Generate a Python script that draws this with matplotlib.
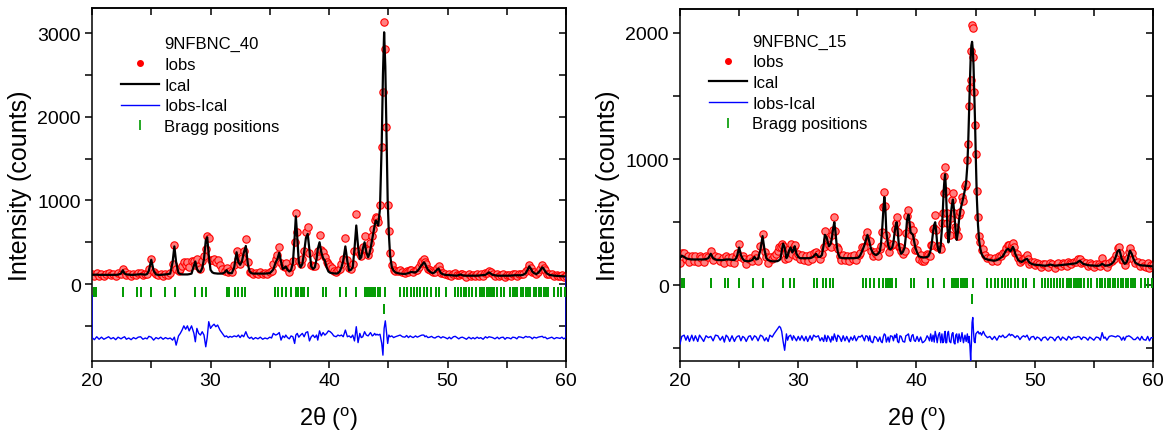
import numpy as np
import matplotlib
matplotlib.use("Agg")
import matplotlib.pyplot as plt
from matplotlib.lines import Line2D
from matplotlib.ticker import MultipleLocator

plt.rcParams.update({
    "font.family": ["Liberation Sans", "DejaVu Sans"],
    "mathtext.fontset": "custom",
    "mathtext.rm": "Liberation Sans",
    "axes.linewidth": 1.1,
})

# ---------------------------------------------------------------- data
# sample 9NFBNC_40 : 2theta, calculated profile, residual (Iobs - Ical)
tt_40 = [20.0, 20.2, 20.4, 20.6, 20.8, 21.0, 21.2, 21.4, 21.6, 21.8,
         22.0, 22.2, 22.45, 22.6, 22.75, 22.9, 23.1, 23.3, 23.5, 23.7,
         23.9, 24.1, 24.3, 24.5, 24.65, 24.8, 25.0, 25.2, 25.4, 25.6,
         25.8, 26.0, 26.2, 26.4, 26.6, 26.8, 26.95, 27.1, 27.3, 27.45,
         27.6, 27.75, 27.9, 28.05, 28.2, 28.4, 28.6, 28.72, 28.85, 29.0,
         29.15, 29.3, 29.45, 29.6, 29.72, 29.85, 30.0, 30.15, 30.3, 30.45,
         30.6, 30.8, 31.0, 31.2, 31.35, 31.5, 31.65, 31.8, 32.0, 32.2,
         32.35, 32.5, 32.65, 32.8, 32.98, 33.15, 33.3, 33.45, 33.6, 33.8,
         34.0, 34.2, 34.4, 34.6, 34.8, 35.0, 35.15, 35.3, 35.5, 35.65,
         35.8, 35.95, 36.1, 36.25, 36.35, 36.5, 36.65, 36.8, 36.95, 37.1,
         37.2, 37.32, 37.45, 37.6, 37.75, 37.9, 38.05, 38.2, 38.35, 38.5,
         38.65, 38.8, 38.95, 39.05, 39.2, 39.35, 39.5, 39.65, 39.8, 39.95,
         40.1, 40.25, 40.4, 40.6, 40.75, 40.9, 41.05, 41.2, 41.38, 41.55,
         41.7, 41.85, 42.0, 42.15, 42.3, 42.45, 42.6, 42.72, 42.85, 43.0,
         43.15, 43.3, 43.4, 43.5, 43.65, 43.75, 43.85, 43.95, 44.05, 44.15,
         44.3, 44.45, 44.55, 44.65, 44.75, 44.85, 44.95, 45.05, 45.15, 45.3,
         45.45, 45.6, 45.8, 46.0, 46.2, 46.4, 46.55, 46.7, 46.85, 46.95,
         47.1, 47.3, 47.45, 47.6, 47.75, 47.85, 48.0, 48.1, 48.2, 48.35,
         48.5, 48.65, 48.8, 48.95, 49.1, 49.25, 49.35, 49.45, 49.6, 49.8,
         50.0, 50.15, 50.3, 50.5, 50.65, 50.8, 50.95, 51.1, 51.25, 51.4,
         51.6, 51.8, 52.0, 52.15, 52.3, 52.5, 52.65, 52.8, 53.0, 53.2,
         53.35, 53.5, 53.65, 53.8, 54.0, 54.2, 54.35, 54.5, 54.7, 54.85,
         55.0, 55.2, 55.35, 55.5, 55.7, 55.85, 56.0, 56.2, 56.4, 56.6,
         56.75, 56.9, 57.05, 57.15, 57.3, 57.5, 57.65, 57.8, 58.0, 58.1,
         58.25, 58.4, 58.6, 58.8, 59.0, 59.2, 59.35, 59.5, 59.65, 59.8,
         60.0]
ical_40 = [110, 112, 112, 110, 110, 110, 110, 110, 110, 110,
           110, 112, 125, 165, 125, 115, 112, 110, 110, 112,
           115, 118, 115, 112, 120, 160, 290, 160, 115, 110,
           110, 112, 115, 118, 125, 260, 450, 260, 130, 120,
           115, 115, 115, 115, 118, 125, 220, 270, 180, 150,
           145, 190, 300, 520, 560, 350, 170, 140, 130, 128,
           125, 125, 125, 140, 165, 135, 130, 130, 200, 380,
           260, 230, 270, 370, 455, 240, 150, 130, 125, 125,
           125, 125, 125, 125, 127, 130, 150, 175, 260, 300,
           375, 270, 180, 195, 210, 170, 150, 170, 250, 560,
           810, 560, 260, 200, 240, 380, 550, 600, 400, 210,
           180, 200, 300, 420, 500, 380, 310, 280, 200, 150,
           135, 130, 128, 125, 130, 150, 200, 280, 450, 270,
           160, 170, 200, 420, 700, 450, 300, 320, 420, 500,
           380, 320, 360, 420, 540, 620, 700, 760, 740, 700,
           900, 1700, 2500, 3010, 2600, 1800, 1000, 600, 350, 200,
           160, 140, 130, 125, 122, 120, 125, 130, 140, 145,
           140, 140, 155, 180, 215, 230, 260, 245, 210, 170,
           150, 135, 130, 145, 170, 185, 155, 130, 118, 110,
           108, 106, 105, 103, 102, 100, 108, 115, 105, 100,
           100, 100, 100, 100, 100, 100, 102, 105, 108, 110,
           125, 140, 125, 110, 105, 100, 100, 100, 100, 100,
           100, 100, 102, 103, 105, 105, 105, 105, 112, 130,
           170, 210, 180, 150, 130, 120, 135, 160, 200, 185,
           150, 125, 110, 105, 100, 98, 97, 95, 93, 92,
           90]
resid_40 = [10, -15, 20, -10, 15, -10, 5, 20, -5, 10,
            -15, 15, -5, 10, 20, -10, 5, -15, 10, -5,
            15, 20, -10, 5, -5, 25, 15, -20, 10, -5,
            15, -10, 10, -5, 5, -20, 15, -80, 30, 60,
            100, 150, 110, 150, 90, 150, 60, -40, 120, 60,
            40, 80, 40, -100, 10, 200, 120, 150, 170, 140,
            160, 100, 60, 20, 30, 10, 25, 15, 30, 20,
            40, 10, 40, 20, 80, 20, 0, 15, -10, 10,
            -5, 15, -10, 5, -5, 15, 5, 60, 40, 50,
            70, -20, 30, 10, 40, 10, -5, 30, 20, -60,
            40, 60, 15, 40, 60, 20, 70, 80, -30, 20,
            40, 10, 40, -20, 90, 30, 70, 40, 60, 90,
            80, 60, 30, 20, 40, 30, 40, 20, 100, 20,
            30, 10, 40, -30, 140, -50, 60, 10, 20, 80,
            40, 30, 50, 70, 30, 40, 60, 40, 50, 40,
            50, -60, -200, 120, 210, 80, -60, 40, 20, 30,
            10, 20, 30, 40, 20, 15, 35, 10, 30, 20,
            10, 30, 15, 25, 35, 40, 40, 20, 30, 10,
            15, 25, 10, 5, 20, 25, 15, 5, 20, 10,
            -5, 15, -5, 20, 25, 10, -5, 10, 15, 5,
            -10, 15, -5, 10, -5, 15, 0, 10, -10, 20,
            5, 20, 15, 10, -5, 15, -5, 10, 15, -10,
            10, 5, -5, 15, 10, -5, 20, 15, 5, 25,
            15, 20, 10, -5, 15, 5, 15, 20, 25, 10,
            15, -5, 5, 15, -5, 10, 5, 0, 15, -5,
            10]
diff_edges_40 = [-140, 80]   # end values of the difference trace

# sample 9NFBNC_15
tt_15 = [20.0, 20.15, 20.35, 20.5, 20.65, 20.8, 21.0, 21.15, 21.3, 21.5,
         21.65, 21.8, 22.0, 22.2, 22.4, 22.6, 22.8, 23.0, 23.2, 23.4,
         23.6, 23.75, 23.9, 24.05, 24.2, 24.4, 24.6, 24.75, 24.85, 25.0,
         25.15, 25.3, 25.45, 25.6, 25.8, 25.95, 26.1, 26.3, 26.45, 26.6,
         26.8, 26.98, 27.15, 27.3, 27.45, 27.6, 27.8, 27.95, 28.1, 28.25,
         28.4, 28.5, 28.6, 28.72, 28.85, 29.0, 29.1, 29.2, 29.35, 29.5,
         29.6, 29.7, 29.85, 30.0, 30.15, 30.3, 30.5, 30.65, 30.8, 31.0,
         31.15, 31.3, 31.5, 31.7, 31.85, 32.0, 32.15, 32.25, 32.4, 32.5,
         32.6, 32.75, 32.85, 32.95, 33.05, 33.15, 33.25, 33.35, 33.5, 33.65,
         33.8, 33.95, 34.1, 34.3, 34.45, 34.6, 34.75, 34.9, 35.1, 35.25,
         35.4, 35.6, 35.72, 35.85, 35.95, 36.05, 36.15, 36.3, 36.45, 36.6,
         36.75, 36.9, 37.0, 37.1, 37.2, 37.28, 37.37, 37.45, 37.6, 37.7,
         37.8, 37.95, 38.05, 38.15, 38.25, 38.32, 38.4, 38.5, 38.6, 38.7,
         38.85, 39.0, 39.1, 39.2, 39.32, 39.42, 39.5, 39.6, 39.7, 39.8,
         39.9, 40.05, 40.2, 40.35, 40.5, 40.6, 40.75, 40.9, 41.0, 41.1,
         41.2, 41.3, 41.4, 41.5, 41.58, 41.67, 41.75, 41.85, 41.95, 42.05,
         42.15, 42.23, 42.3, 42.36, 42.42, 42.48, 42.55, 42.62, 42.7, 42.8,
         42.9, 43.0, 43.08, 43.17, 43.25, 43.32, 43.4, 43.5, 43.6, 43.72,
         43.85, 43.97, 44.1, 44.2, 44.3, 44.38, 44.45, 44.52, 44.58, 44.64,
         44.7, 44.76, 44.82, 44.88, 44.95, 45.02, 45.1, 45.2, 45.3, 45.4,
         45.5, 45.65, 45.8, 46.0, 46.2, 46.4, 46.6, 46.8, 47.0, 47.15,
         47.3, 47.45, 47.6, 47.75, 47.85, 47.95, 48.05, 48.15, 48.25, 48.35,
         48.5, 48.6, 48.75, 48.9, 49.05, 49.2, 49.35, 49.45, 49.55, 49.7,
         49.9, 50.05, 50.2, 50.4, 50.55, 50.7, 50.9, 51.1, 51.3, 51.5,
         51.7, 51.85, 52.0, 52.2, 52.35, 52.5, 52.7, 52.85, 53.0, 53.1,
         53.3, 53.5, 53.65, 53.8, 53.95, 54.1, 54.3, 54.5, 54.65, 54.8,
         55.0, 55.2, 55.4, 55.55, 55.7, 55.85, 55.95, 56.1, 56.3, 56.5,
         56.7, 56.85, 57.0, 57.15, 57.25, 57.35, 57.5, 57.6, 57.75, 57.85,
         57.95, 58.05, 58.2, 58.35, 58.5, 58.7, 58.9, 59.05, 59.2, 59.4,
         59.55, 59.7, 59.85, 60.0]
ical_15 = [215, 235, 225, 215, 210, 207, 205, 205, 205, 205,
           205, 205, 205, 208, 215, 250, 215, 205, 200, 200,
           200, 202, 205, 205, 205, 202, 200, 215, 240, 300,
           240, 210, 195, 192, 190, 195, 200, 225, 205, 210,
           280, 390, 280, 215, 200, 195, 190, 190, 190, 192,
           200, 210, 270, 330, 300, 215, 230, 270, 300, 260,
           280, 310, 250, 225, 215, 215, 215, 215, 215, 215,
           220, 230, 250, 225, 225, 240, 320, 400, 380, 340,
           310, 330, 380, 450, 500, 420, 320, 260, 220, 218,
           215, 215, 215, 215, 215, 215, 215, 217, 220, 240,
           270, 320, 360, 400, 370, 330, 290, 260, 245, 240,
           250, 270, 330, 450, 600, 700, 600, 420, 320, 290,
           285, 300, 340, 420, 480, 500, 440, 330, 280, 250,
           265, 300, 390, 520, 560, 490, 420, 410, 400, 350,
           300, 260, 230, 225, 222, 220, 222, 225, 230, 250,
           280, 340, 420, 480, 500, 420, 330, 280, 260, 320,
           450, 600, 750, 830, 880, 780, 600, 450, 340, 420,
           560, 640, 680, 600, 500, 420, 360, 420, 520, 600,
           650, 700, 760, 820, 950, 1150, 1400, 1620, 1800, 1900,
           1930, 1870, 1750, 1550, 1300, 1000, 700, 480, 350, 290,
           250, 225, 210, 205, 200, 197, 195, 200, 210, 220,
           230, 255, 280, 290, 280, 270, 285, 305, 285, 250,
           220, 200, 190, 185, 195, 205, 210, 195, 180, 172,
           165, 163, 162, 160, 158, 157, 155, 158, 165, 160,
           155, 157, 158, 160, 162, 163, 165, 167, 168, 170,
           172, 175, 185, 195, 182, 170, 165, 160, 158, 157,
           155, 155, 155, 160, 170, 162, 155, 157, 160, 170,
           190, 225, 270, 280, 250, 210, 185, 170, 180, 200,
           240, 275, 250, 210, 180, 168, 160, 158, 157, 155,
           154, 152, 151, 150]
resid_15 = [-40, 20, 30, -10, 25, -20, 30, -15, 25, -20,
            30, 10, -20, 25, 10, 20, -15, 30, 25, -10,
            20, -25, 30, 15, -20, 25, -20, 10, 20, 25,
            -15, 20, 10, -20, 20, 25, -10, 25, 15, -15,
            30, 20, -15, 10, -20, 30, 15, 40, 60, 80,
            100, 90, 60, -20, -90, 40, -10, 20, 30, -10,
            25, 10, -15, 20, -10, 25, -15, 20, -20, 25,
            -10, 30, 15, 25, -15, 10, -20, 30, -20, 25,
            10, -25, 20, -10, 40, 10, -20, 30, 15, -20,
            25, -15, 20, -25, 15, -10, 25, -15, 20, 15,
            30, -15, 25, 20, -15, 25, -20, -30, 20, 10,
            -20, 15, -20, -30, 20, 40, 30, -25, 15, -25,
            25, 20, -15, 30, 10, 40, -20, -30, 25, 20,
            -20, -25, 25, 30, 40, -10, -20, 25, 35, -10,
            -20, 20, -20, 15, -30, -25, -10, 25, 10, -15,
            40, -20, 30, -25, 60, 20, -30, 30, 50, -30,
            40, -30, -20, 40, 60, -30, -30, 40, 60, -20,
            -30, 40, 50, -30, -40, 30, 40, -30, 40, -20,
            50, -30, 30, -20, 40, -30, 20, -60, -170, -40,
            130, 170, 60, -20, -30, 40, 50, 60, 40, 50,
            30, 60, 30, 10, 20, -5, 20, -10, 25, 15,
            30, 10, 15, 30, 40, 25, 35, 30, 20, 10,
            25, 20, -5, 15, 25, 15, 30, 10, -10, 15,
            20, -5, 15, 5, -15, 10, 15, -10, 15, 10,
            -15, 10, 20, -10, 15, 5, -10, 20, 10, -5,
            15, 10, 20, 15, -5, 15, 10, -10, 15, 5,
            -10, 15, 10, -10, 50, 5, 15, -10, 20, 25,
            20, 15, 25, 20, 10, -10, 15, -10, 20, 20,
            25, 20, 10, -5, -5, 15, -10, 20, -5, -10,
            20, -15, 10, 10]

# Bragg reflections of the main phase and of the second phase
bragg_main = [20.15, 20.35, 22.6, 23.8, 24.1, 25.0, 26.2, 27.0, 28.7, 29.3,
              29.65, 31.35, 31.6, 32.1, 32.35, 32.65, 32.95, 35.45, 35.7, 36.05,
              36.4, 36.8, 37.2, 37.4, 37.6, 37.75, 37.9, 38.25, 39.5, 39.75,
              40.95, 41.4, 42.3, 43.0, 43.2, 43.35, 43.55, 43.75, 43.9, 44.1,
              44.3, 44.75, 46.0, 46.3, 46.6, 46.9, 47.2, 47.45, 47.7, 48.0,
              48.3, 48.6, 49.0, 49.3, 49.9, 50.6, 50.85, 51.1, 51.35, 51.6,
              51.85, 52.1, 52.4, 52.7, 52.9, 53.1, 53.3, 53.5, 53.65, 53.8,
              53.95, 54.2, 54.5, 54.8, 55.3, 55.5, 55.7, 55.9, 56.2, 56.4,
              56.6, 56.8, 57.0, 57.3, 57.5, 57.7, 57.9, 58.1, 58.3, 58.5,
              59.0, 59.3, 59.6, 59.9]
bragg_second_40 = [44.65]
bragg_second_15 = [44.7]

RED = "#ff0000"
GREEN = "#009a00"
BLUE = "#0000ff"


def panel(ax, name, tt, ical, resid, offset, bragg_y, second, second_y,
          ylim, edges=None):
    tt = np.array(tt)
    ical = np.array(ical, dtype=float)
    resid = np.array(resid, dtype=float)
    iobs = ical + resid

    ax.plot(tt, iobs, "o", ms=5.3, mfc="#ff8080", mec=RED, mew=0.8, zorder=2)
    ax.plot(tt, ical, "-", color="black", lw=1.6, zorder=3)
    dx, dy = tt, resid + offset
    if edges is not None:
        dx = np.concatenate([[tt[0]], tt, [tt[-1]]])
        dy = np.concatenate([[edges[0]], dy, [edges[1]]])
    ax.plot(dx, dy, "-", color=BLUE, lw=1.0, zorder=3)
    ax.plot(bragg_main, np.full(len(bragg_main), bragg_y), "|", color=GREEN,
            ms=6.5, mew=1.4, zorder=3)
    ax.plot(second, np.full(len(second), second_y), "|", color=GREEN,
            ms=6.5, mew=1.4, zorder=3)

    ax.set_xlim(20, 60)
    ax.set_ylim(*ylim)
    for axis, major, minor in ((ax.xaxis, 10, 5), (ax.yaxis, 1000, 500)):
        axis.set_major_locator(MultipleLocator(major))
        axis.set_minor_locator(MultipleLocator(minor))
    ax.tick_params(which="both", direction="out", length=5, width=1.1,
                   labelsize=14, top=False, right=False, pad=3)

    sx = ax.secondary_xaxis("top")
    sx.xaxis.set_major_locator(MultipleLocator(10))
    sx.xaxis.set_minor_locator(MultipleLocator(5))
    sx.tick_params(which="both", direction="in", length=5, width=1.1,
                   labeltop=False)
    sy = ax.secondary_yaxis("right")
    sy.yaxis.set_major_locator(MultipleLocator(1000))
    sy.yaxis.set_minor_locator(MultipleLocator(500))
    sy.tick_params(which="both", direction="in", length=5, width=1.1,
                   labelright=False)

    ax.set_xlabel(r"2θ ($^{\mathrm{o}}$)", fontsize=17, labelpad=11)
    ax.set_ylabel("Intensity (counts)", fontsize=18, labelpad=4)

    handles = [
        Line2D([], [], linestyle="none"),
        Line2D([], [], linestyle="none", marker="o", ms=4, color=RED),
        Line2D([], [], color="black", lw=1.6),
        Line2D([], [], color=BLUE, lw=1.0),
        Line2D([], [], linestyle="none", marker="|", ms=6.5, mew=1.2, color=GREEN),
    ]
    labels = [name, "Iobs", "Ical", "Iobs-Ical", "Bragg positions"]
    return ax.legend(handles, labels, loc="upper left", frameon=False,
                     fontsize=12, handlelength=2.3, handletextpad=0.3,
                     labelspacing=0.34, borderpad=0, borderaxespad=0)


fig = plt.figure(figsize=(11.69, 4.35), dpi=100)
ax1 = fig.add_axes([0.0787, 0.1678, 0.4055, 0.8115])
ax2 = fig.add_axes([0.5817, 0.1678, 0.4046, 0.8092])

leg1 = panel(ax1, "9NFBNC_40", tt_40, ical_40, resid_40, -650, -100,
             bragg_second_40, -300, (-920, 3300), edges=diff_edges_40)
leg1.set_bbox_to_anchor((0.061, 0.92), transform=ax1.transAxes)
leg2 = panel(ax2, "9NFBNC_15", tt_15, ical_15, resid_15, -425, 15,
             bragg_second_15, -105, (-600, 2190))
leg2.set_bbox_to_anchor((0.061, 0.93), transform=ax2.transAxes)

fig.savefig("out.png", dpi=100)
